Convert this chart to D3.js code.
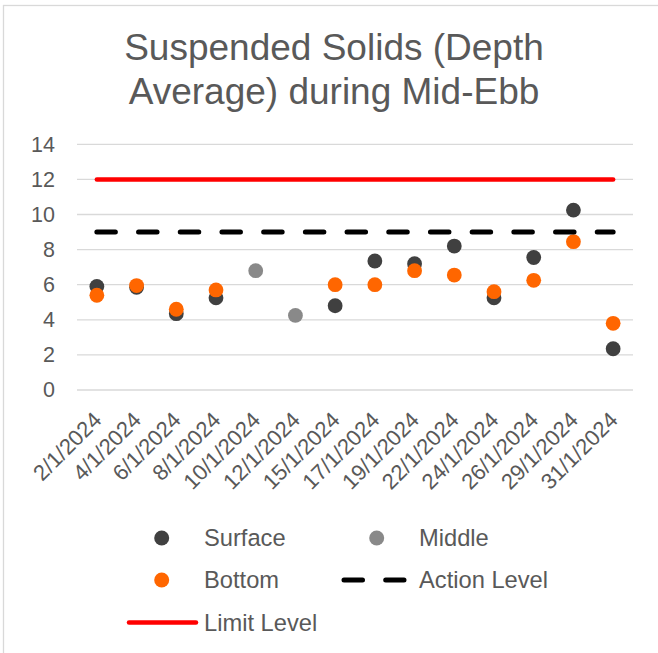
<!DOCTYPE html>
<html>
<head>
<meta charset="utf-8">
<script src="https://cdn.jsdelivr.net/npm/d3@7"></script>
<style>
  html, body { margin: 0; padding: 0; background: #fff; }
  svg { display: block; font-family: "Liberation Sans", Arial, sans-serif; }
</style>
</head>
<body>
<svg id="chart" width="658" height="653"></svg>
<script>
// Sampling dates (category axis)
const dates = ["2/1/2024", "4/1/2024", "6/1/2024", "8/1/2024", "10/1/2024", "12/1/2024",
  "15/1/2024", "17/1/2024", "19/1/2024", "22/1/2024", "24/1/2024", "26/1/2024",
  "29/1/2024", "31/1/2024"];

// Suspended solids (mg/L), depth-averaged, by sampling depth
const surface = [5.9, 5.85, 4.35, 5.25, null, null, 4.8, 7.35, 7.2, 8.2, 5.25, 7.55, 10.25, 2.35];
const middle  = [null, null, null, null, 6.8, 4.25, null, null, null, null, null, null, null, null];
const bottom  = [5.4, 5.95, 4.6, 5.7, null, null, 6.0, 6.0, 6.8, 6.55, 5.6, 6.25, 8.45, 3.8];

// Compliance levels
const actionLevel = [9, 9, 9, 9, 9, 9, 9, 9, 9, 9, 9, 9, 9, 9];
const limitLevel  = [12, 12, 12, 12, 12, 12, 12, 12, 12, 12, 12, 12, 12, 12];

const yTicks = [0, 2, 4, 6, 8, 10, 12, 14];

const textColor = "#595959";
const gridColor = "#d9d9d9";

const svg = d3.select("#chart");

// Chart frame
svg.append("rect")
  .attr("x", 3.5).attr("y", 5.5)
  .attr("width", 700).attr("height", 700)
  .attr("fill", "#fff")
  .attr("stroke", gridColor).attr("stroke-width", 1.3);

// Title
const title = svg.append("text")
  .attr("text-anchor", "middle")
  .attr("fill", textColor)
  .style("font-size", "37px");
title.append("tspan").attr("x", 334).attr("y", 60).text("Suspended Solids (Depth");
title.append("tspan").attr("x", 334).attr("y", 103.5).text("Average) during Mid-Ebb");

// Scales
const x = d3.scalePoint().domain(dates).range([77, 633]).padding(0.5);
const y = d3.scaleLinear().domain([0, 14]).range([390, 144.3]);

// Gridlines
svg.append("g")
  .selectAll("line")
  .data(yTicks)
  .join("line")
  .attr("x1", 77).attr("x2", 633)
  .attr("y1", d => y(d)).attr("y2", d => y(d))
  .attr("stroke", gridColor).attr("stroke-width", 1.3);

// Y axis labels
const yAxis = svg.append("g")
  .attr("transform", "translate(77,0)")
  .call(d3.axisLeft(y).tickValues(yTicks).tickSize(0).tickPadding(22).tickFormat(d3.format("d")));
yAxis.select(".domain").remove();
yAxis.selectAll("text")
  .attr("fill", textColor)
  .style("font-size", "21.5px")
  .style("font-family", "'Liberation Sans', Arial, sans-serif");

// X axis labels, rotated
const xAxis = svg.append("g")
  .attr("transform", "translate(0,390)")
  .call(d3.axisBottom(x).tickSize(0));
xAxis.select(".domain").remove();
xAxis.selectAll("text")
  .attr("x", 0).attr("y", 0).attr("dy", "0.35em")
  .attr("text-anchor", "end")
  .attr("transform", "translate(0,26) rotate(-45)")
  .attr("fill", textColor)
  .style("font-size", "22px")
  .style("font-family", "'Liberation Sans', Arial, sans-serif");

// Point series
const series = [
  { name: "Surface", values: surface, color: "#404040" },
  { name: "Middle",  values: middle,  color: "#898989" },
  { name: "Bottom",  values: bottom,  color: "#ff6600" }
];
const R = 7.4;

series.forEach(s => {
  svg.append("g")
    .selectAll("circle")
    .data(s.values.map((v, i) => ({ date: dates[i], v })).filter(d => d.v !== null))
    .join("circle")
    .attr("cx", d => x(d.date))
    .attr("cy", d => y(d.v))
    .attr("r", R)
    .attr("fill", s.color);
});

// Level lines
const levelLine = d3.line()
  .x((d, i) => x(dates[i]))
  .y(d => y(d));

svg.append("path")
  .datum(actionLevel)
  .attr("d", levelLine)
  .attr("fill", "none")
  .attr("stroke", "#000")
  .attr("stroke-width", 5)
  .attr("stroke-linecap", "round")
  .attr("stroke-dasharray", "18.5,23.2");

svg.append("path")
  .datum(limitLevel)
  .attr("d", levelLine)
  .attr("fill", "none")
  .attr("stroke", "#ff0000")
  .attr("stroke-width", 4.5)
  .attr("stroke-linecap", "round");

// Legend
const legend = svg.append("g")
  .style("font-size", "23.7px")
  .attr("fill", textColor);

function legendText(tx, ty, label) {
  legend.append("text")
    .attr("x", tx).attr("y", ty).attr("dy", "0.35em")
    .text(label);
}

// Surface
legend.append("circle").attr("cx", 161.7).attr("cy", 538).attr("r", 7.5).attr("fill", series[0].color);
legendText(204, 538, series[0].name);
// Middle
legend.append("circle").attr("cx", 376.7).attr("cy", 538).attr("r", 7.5).attr("fill", series[1].color);
legendText(419, 538, series[1].name);
// Bottom
legend.append("circle").attr("cx", 161.7).attr("cy", 580).attr("r", 7.5).attr("fill", series[2].color);
legendText(204, 580, series[2].name);
// Action Level
legend.append("line")
  .attr("x1", 344).attr("x2", 404).attr("y1", 580).attr("y2", 580)
  .attr("stroke", "#000").attr("stroke-width", 5)
  .attr("stroke-linecap", "round")
  .attr("stroke-dasharray", "18.5,23.2");
legendText(419, 580, "Action Level");
// Limit Level
legend.append("line")
  .attr("x1", 129).attr("x2", 196).attr("y1", 622.5).attr("y2", 622.5)
  .attr("stroke", "#ff0000").attr("stroke-width", 4.5)
  .attr("stroke-linecap", "round");
legendText(204, 622.5, "Limit Level");
</script>
</body>
</html>
